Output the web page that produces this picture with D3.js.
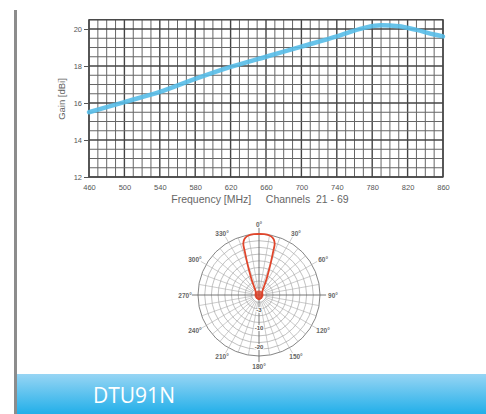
<!DOCTYPE html>
<html>
<head>
<meta charset="utf-8">
<script src="https://cdn.jsdelivr.net/npm/d3@7"></script>
<style>
  html, body { margin: 0; padding: 0; background: #ffffff; }
  svg { display: block; }
  text { font-family: "Liberation Sans", Arial, sans-serif; }
</style>
</head>
<body>
<svg id="chart" width="486" height="414"></svg>
<script>
// Gain curve of the antenna across the UHF band
const freqTicks = [460, 500, 540, 580, 620, 660, 700, 740, 780, 820, 860];
const gainTicks = [12, 14, 16, 18, 20];
const freqMHz = [460, 500, 540, 580, 620, 660, 700, 740, 770, 790, 810, 830, 850, 860];
const gainDbi = [15.5, 16.05, 16.6, 17.3, 17.95, 18.5, 19.05, 19.6, 20.05, 20.2, 20.15, 19.95, 19.7, 19.6];

// Horizontal radiation pattern (relative field, 1 = outer ring)
const patternAngles = [0, 5, 10, 13, 15, 17, 18, 20, 22, 25, 30, 40, 60, 90, 120, 150, 180,
                       210, 240, 270, 300, 320, 330, 335, 338, 340, 342, 343, 345, 347, 350, 355];
const patternLevel  = [1.0, 1.0, 0.99, 0.97, 0.94, 0.88, 0.76, 0.57, 0.43, 0.3, 0.17, 0.09, 0.06, 0.05, 0.05, 0.06, 0.07,
                       0.06, 0.05, 0.05, 0.06, 0.09, 0.17, 0.3, 0.43, 0.57, 0.76, 0.88, 0.94, 0.97, 0.99, 1.0];
const angleLabels = ["0°", "30°", "60°", "90°", "120°", "150°", "180°", "210°", "240°", "270°", "300°", "330°"];
const ringLevels = [0.12, 0.23, 0.34, 0.45, 0.56, 0.67, 0.78, 0.89, 1.0];
const ringLabels = ["-3", "-10", "-20"];
const ringLabelLevels = [0.24, 0.54, 0.86];

const productName = "DTU91N";

const svg = d3.select("#chart");

// page decoration: side rule and title banner
const defs = svg.append("defs");
const grad = defs.append("linearGradient").attr("id", "banner").attr("x1", 0).attr("y1", 0).attr("x2", 0).attr("y2", 1);
grad.append("stop").attr("offset", "0%").attr("stop-color", "#97d5f4");
grad.append("stop").attr("offset", "100%").attr("stop-color", "#22afe9");

svg.append("rect").attr("x", 14).attr("y", 10).attr("width", 3).attr("height", 404).attr("fill", "#8c8c8c");
svg.append("rect").attr("x", 17).attr("y", 374).attr("width", 469).attr("height", 40).attr("fill", "url(#banner)");
svg.append("text").attr("x", 93).attr("y", 403)
  .style("font-family", "'Open Sans', sans-serif").style("font-size", "21px")
  .attr("fill", "#ffffff").text(productName);

// ---------- gain chart ----------
const x = d3.scaleLinear().domain([460, 860]).range([89, 443]);
const y = d3.scaleLinear().domain([12, 20.5]).range([177, 19.75]);

const grid = svg.append("g");
const minorF = d3.range(460, 861, 10);
const minorG = d3.range(12, 20.51, 0.5);

grid.selectAll("line.v").data(minorF).join("line")
  .attr("x1", d => x(d)).attr("x2", d => x(d))
  .attr("y1", y(20.5)).attr("y2", y(12))
  .attr("stroke", d => (d - 460) % 40 === 0 ? "#444" : "#666")
  .attr("stroke-width", d => (d - 460) % 40 === 0 ? 1.4 : 1);

grid.selectAll("line.h").data(minorG).join("line")
  .attr("x1", x(460)).attr("x2", x(860))
  .attr("y1", d => y(d)).attr("y2", d => y(d))
  .attr("stroke", d => Number.isInteger(d) && d % 2 === 0 ? "#444" : "#666")
  .attr("stroke-width", d => Number.isInteger(d) && d % 2 === 0 ? 1.4 : 1);

grid.append("rect").attr("x", x(460)).attr("y", y(20.5))
  .attr("width", x(860) - x(460)).attr("height", y(12) - y(20.5))
  .attr("fill", "none").attr("stroke", "#444").attr("stroke-width", 1.3);

const xAxis = svg.append("g").attr("transform", `translate(0,${y(12)})`)
  .call(d3.axisBottom(x).tickValues(freqTicks).tickSize(0).tickPadding(8).tickFormat(d3.format("d")));
const yAxis = svg.append("g").attr("transform", `translate(${x(460)},0)`)
  .call(d3.axisLeft(y).tickValues(gainTicks).tickSize(5).tickPadding(2).tickFormat(d3.format("d")));
[xAxis, yAxis].forEach(a => {
  a.select(".domain").remove();
  a.selectAll("text").style("font-size", "7.5px").attr("fill", "#555");
  a.selectAll("line").attr("stroke", "#555");
});

svg.append("text").attr("x", 260).attr("y", 203).attr("text-anchor", "middle")
  .style("font-size", "10.5px").attr("fill", "#666")
  .attr("xml:space", "preserve").style("white-space", "pre")
  .text("Frequency [MHz]     Channels  21 - 69");
svg.append("text").attr("transform", "translate(65,99) rotate(-90)").attr("text-anchor", "middle")
  .style("font-size", "9.5px").attr("fill", "#666").text("Gain [dBi]");

const gainLine = d3.line().x((d, i) => x(freqMHz[i])).y(d => y(d)).curve(d3.curveMonotoneX);
svg.append("path").datum(gainDbi).attr("d", gainLine)
  .attr("fill", "none").attr("stroke", "#56bde8").attr("stroke-width", 4.5)
  .attr("stroke-linecap", "round").attr("opacity", 0.9);

// ---------- polar pattern ----------
const cx = 259, cy = 295, R = 61;
const r = d3.scaleLinear().domain([0, 1]).range([0, R]);
const polar = svg.append("g").attr("transform", `translate(${cx},${cy})`);

polar.selectAll("circle.ring").data(ringLevels).join("circle")
  .attr("r", d => r(d)).attr("fill", "none")
  .attr("stroke", d => d === 1 ? "#777" : "#a5a5a5").attr("stroke-width", d => d === 1 ? 0.9 : 0.7);

const spokes = d3.range(0, 360, 10);
polar.selectAll("line.spoke").data(spokes).join("line")
  .attr("x1", d => Math.sin(d * Math.PI / 180) * (d % 90 === 0 ? 0 : r(0.12)))
  .attr("y1", d => -Math.cos(d * Math.PI / 180) * (d % 90 === 0 ? 0 : r(0.12)))
  .attr("x2", d => Math.sin(d * Math.PI / 180) * r(d % 30 === 0 ? 1.1 : 1))
  .attr("y2", d => -Math.cos(d * Math.PI / 180) * r(d % 30 === 0 ? 1.1 : 1))
  .attr("stroke", d => d % 90 === 0 ? "#666" : "#aaa")
  .attr("stroke-width", d => d % 90 === 0 ? 0.9 : 0.6);

polar.selectAll("text.ang").data(angleLabels).join("text")
  .attr("x", (d, i) => Math.sin(i * 30 * Math.PI / 180) * (R + 13))
  .attr("y", (d, i) => -Math.cos(i * 30 * Math.PI / 180) * (R + 10) + 2.5)
  .attr("text-anchor", "middle").style("font-size", "6.5px").style("font-weight", "bold")
  .attr("fill", "#666").text(d => d);

polar.selectAll("text.ring").data(ringLabels).join("text")
  .attr("x", 0).attr("y", (d, i) => r(ringLabelLevels[i]) + 2)
  .attr("text-anchor", "middle").style("font-size", "6px").style("font-weight", "bold")
  .attr("fill", "#555")
  .attr("paint-order", "stroke").attr("stroke", "#fff").attr("stroke-width", 2)
  .text(d => d);

const lobe = d3.lineRadial()
  .angle((d, i) => patternAngles[i] * Math.PI / 180)
  .radius(d => r(d))
  .curve(d3.curveCatmullRomClosed.alpha(0.5));
polar.append("path").datum(patternLevel).attr("d", lobe)
  .attr("fill", "none").attr("stroke", "#e0462c").attr("stroke-width", 1.8)
  .attr("stroke-linejoin", "round");
polar.append("circle").attr("r", 4.5).attr("fill", "#d8432b").attr("opacity", 0.85);
</script>
</body>
</html>
